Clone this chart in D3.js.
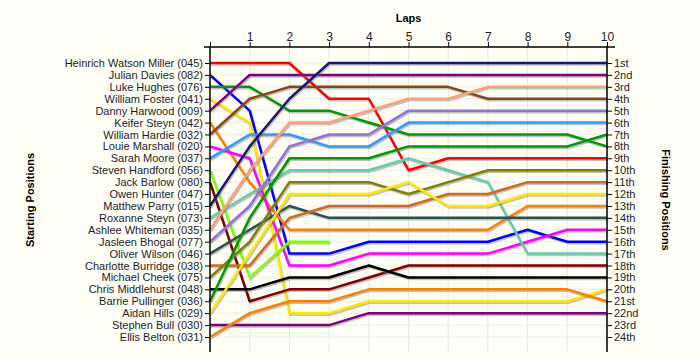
<!DOCTYPE html>
<html>
<head>
<meta charset="utf-8">
<script src="https://cdn.jsdelivr.net/npm/d3@7"></script>
<style>
  body { margin: 0; background: #fffff6; }
  svg { display: block; font-family: "Liberation Sans", Arial, sans-serif; }
  .tick text { font-size: 11px; fill: #1c1c2c; }
  .axis-title { font-size: 11px; font-weight: bold; fill: #000; }
</style>
</head>
<body>
<div id="chart"></div>
<script>
// lap numbers shown on the top axis
var laps = [0, 1, 2, 3, 4, 5, 6, 7, 8, 9, 10];

// drivers in starting order
var drivers = [
    "Heinrich Watson Miller (045)", "Julian Davies (082)", "Luke Hughes (076)",
    "William Foster (041)", "Danny Harwood (009)", "Keifer Steyn (042)",
    "William Hardie (032)", "Louie Marshall (020)", "Sarah Moore (037)",
    "Steven Handford (056)", "Jack Barlow (080)", "Owen Hunter (047)",
    "Matthew Parry (015)", "Roxanne Steyn (073)", "Ashlee Whiteman (035)",
    "Jasleen Bhogal (077)", "Oliver Wilson (046)", "Charlotte Burridge (038)",
    "Michael Cheek (075)", "Chris Middlehurst (048)", "Barrie Pullinger (036)",
    "Aidan Hills (029)", "Stephen Bull (030)", "Ellis Belton (031)"
];

var finishLabels = [
    "1st", "2nd", "3rd", "4th", "5th", "6th", "7th", "8th", "9th", "10th",
    "11th", "12th", "13th", "14th", "15th", "16th", "17th", "18th", "19th",
    "20th", "21st", "22nd", "23rd", "24th"
];

// position of each driver at the end of laps 0..10 (null = retired)
var positions = [
    [1, 1, 1, 4, 4, 10, 9, 9, 9, 9, 9],
    [2, 5, 17, 17, 16, 16, 16, 16, 15, 16, 16],
    [3, 3, 5, 5, 6, 7, 7, 7, 7, 7, 8],
    [4, 6, 22, 22, 21, 21, 21, 21, 21, 21, 20],
    [5, 2, 2, 2, 2, 2, 2, 2, 2, 2, 2],
    [6, 11, 15, 15, 15, 15, 15, 15, 13, 13, 13],
    [7, 4, 3, 3, 3, 3, 3, 4, 4, 4, 4],
    [8, 9, 18, 18, 17, 17, 17, 17, 16, 15, 15],
    [9, 7, 7, 8, 8, 6, 6, 6, 6, 6, 6],
    [10, 19, 16, 16, null, null, null, null, null, null, null],
    [11, 21, 20, 20, 19, 18, 18, 18, 18, 18, 18],
    [12, null, null, null, null, null, null, null, null, null, null],
    [13, 8, 4, 1, 1, 1, 1, 1, 1, 1, 1],
    [14, 12, 10, 10, 10, 9, 10, 11, 17, 17, 17],
    [15, 10, 6, 6, 5, 4, 4, 3, 3, 3, 3],
    [16, 13, 8, 7, 7, 5, 5, 5, 5, 5, 5],
    [17, 15, 13, 14, 14, 14, 14, 14, 14, 14, 14],
    [18, 18, 14, 13, 13, 13, 12, 12, 11, 11, 11],
    [19, 16, 11, 11, 11, 12, 11, 10, 10, 10, 10],
    [20, 20, 19, 19, 18, 19, 19, 19, 19, 19, 19],
    [21, 14, 9, 9, 9, 8, 8, 8, 8, 8, 7],
    [22, 17, 12, 12, 12, 11, 13, 13, 12, 12, 12],
    [23, 23, 23, 23, 22, 22, 22, 22, 22, 22, 22],
    [24, 22, 21, 21, 20, 20, 20, 20, 20, 20, 21]
];

var lineColours = [
    "#ff0000", "#0000ff", "#009a00", "#ffe800", "#800080", "#ff8000",
    "#8b4513", "#ff00ff", "#3399ff", "#80ff00", "#800000", "#c0c0c0",
    "#191970", "#66cdaa", "#ffa07a", "#9370db", "#2f4f4f", "#d2691e",
    "#808000", "#000000", "#009a00", "#ffe800", "#800080", "#ff8000"
];

var width = 700, height = 360;
var plotLeft = 210, plotRight = 607, plotTop = 47, plotBottom = 352;

var svg = d3.select("#chart").append("svg")
    .attr("width", width)
    .attr("height", height);

var x = d3.scaleLinear().domain([0, 10]).range([plotLeft, plotRight]);
var y = d3.scaleLinear().domain([1, 24]).range([63, 337]);
var rows = d3.range(1, 25);

// grid
svg.append("g").selectAll("line")
    .data(laps.slice(1))
    .enter().append("line")
    .attr("x1", function (d) { return x(d); })
    .attr("x2", function (d) { return x(d); })
    .attr("y1", plotTop).attr("y2", plotBottom)
    .attr("stroke", "#e6e6e6");
svg.append("g").selectAll("line")
    .data(rows)
    .enter().append("line")
    .attr("x1", plotLeft).attr("x2", plotRight)
    .attr("y1", function (d) { return y(d); })
    .attr("y2", function (d) { return y(d); })
    .attr("stroke", "#ececec");

// lap lines
var line = d3.line()
    .defined(function (d) { return d != null; })
    .x(function (d, i) { return x(laps[i]); })
    .y(function (d) { return y(d); });

var series = svg.append("g").selectAll("g.driver")
    .data(positions)
    .enter().append("g")
    .attr("class", "driver");

series.append("path")
    .attr("d", line)
    .attr("fill", "none")
    .attr("stroke", "#7a7a7a")
    .attr("stroke-opacity", 0.45)
    .attr("stroke-width", 2.5)
    .attr("transform", "translate(1,1.5)");

series.append("path")
    .attr("d", line)
    .attr("fill", "none")
    .attr("stroke", function (d, i) { return lineColours[i]; })
    .attr("stroke-width", 2.5)
    .attr("stroke-linejoin", "round");

// axes
var topAxis = svg.append("g")
    .attr("transform", "translate(0," + plotTop + ")")
    .call(d3.axisTop(x).tickValues(laps).tickSize(5).tickPadding(1).tickSizeOuter(0)
        .tickFormat(function (d) { return d === 0 ? "" : d; }));
topAxis.select(".domain").remove();
topAxis.selectAll(".tick text").style("font-size", "12px");
svg.append("line")
    .attr("x1", plotLeft - 6).attr("x2", plotRight + 8)
    .attr("y1", plotTop).attr("y2", plotTop)
    .attr("stroke", "#000").attr("stroke-width", 1.5);

var leftAxis = svg.append("g")
    .attr("transform", "translate(" + plotLeft + ",0)")
    .call(d3.axisLeft(y).tickValues(rows).tickSize(5).tickSizeOuter(0)
        .tickFormat(function (d) { return drivers[d - 1]; }));
leftAxis.select(".domain").remove();
leftAxis.selectAll(".tick text").attr("x", -7);

var rightAxis = svg.append("g")
    .attr("transform", "translate(" + plotRight + ",0)")
    .call(d3.axisRight(y).tickValues(rows).tickSize(5).tickSizeOuter(0)
        .tickFormat(function (d) { return finishLabels[d - 1]; }));
rightAxis.select(".domain").remove();
rightAxis.selectAll(".tick text").attr("x", 7);

[plotLeft, plotRight].forEach(function (px) {
    svg.append("line")
        .attr("x1", px).attr("x2", px)
        .attr("y1", plotTop).attr("y2", plotBottom)
        .attr("stroke", "#000").attr("stroke-width", 1.5);
});

// titles
svg.append("text").attr("class", "axis-title")
    .attr("x", (plotLeft + plotRight) / 2).attr("y", 22)
    .attr("text-anchor", "middle").text("Laps");
svg.append("text").attr("class", "axis-title")
    .attr("transform", "translate(34,200) rotate(-90)")
    .attr("text-anchor", "middle").text("Starting Positions");
svg.append("text").attr("class", "axis-title")
    .attr("transform", "translate(662,200) rotate(90)")
    .attr("text-anchor", "middle").text("Finishing Positions");
</script>
</body>
</html>
